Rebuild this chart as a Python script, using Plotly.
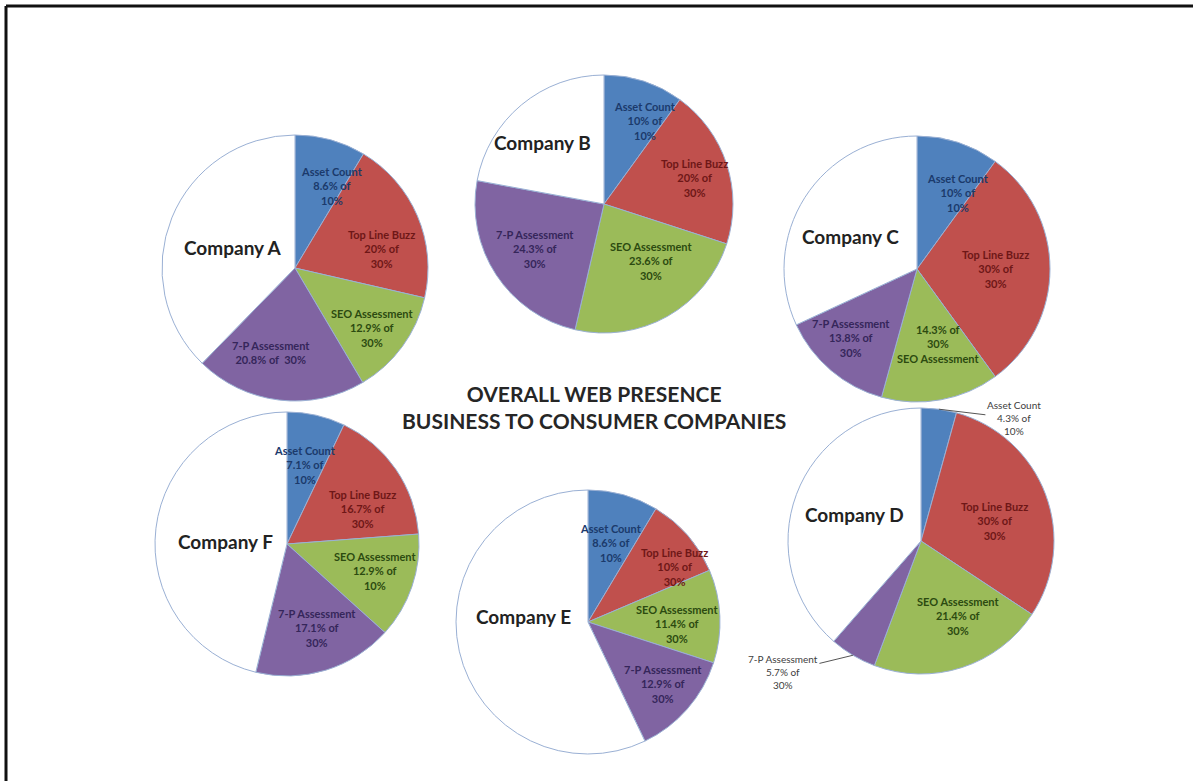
import math
import plotly.graph_objects as go

# ---- data -------------------------------------------------------------
companies = ["Company A", "Company B", "Company C", "Company D", "Company E", "Company F"]
categories = ["Asset Count", "Top Line Buzz", "SEO Assessment", "7-P Assessment"]
max_scores = [10, 30, 30, 30]  # "of N%" shown under each score

asset_count = [8.6, 10, 10, 4.3, 8.6, 7.1]
top_line_buzz = [20, 20, 30, 30, 10, 16.7]
seo_assessment = [12.9, 23.6, 14.3, 21.4, 11.4, 12.9]
seven_p = [20.8, 24.3, 13.8, 5.7, 12.9, 17.1]

# printed "of N%" caps that differ from max_scores
cap_overrides = {("Company F", "SEO Assessment"): 10}

# ---- layout / style ---------------------------------------------------
W, H = 1193, 781
centers = {  # pixel centres of each pie
    "Company A": (295, 268), "Company B": (604, 204), "Company C": (917, 269),
    "Company D": (921, 541), "Company E": (588, 622), "Company F": (287, 544),
}
radius = {"Company A": 133, "Company B": 129, "Company C": 133,
          "Company D": 133, "Company E": 132, "Company F": 132}

slice_colors = ["#4F81BD", "#C0504D", "#9BBB59", "#8064A2", "#FFFFFF"]
text_colors = ["#1B3A6B", "#6E1717", "#2C4A10", "#35265A"]
edge_color = "#9AB0D4"
font_family = "Lato, 'Open Sans', sans-serif"

label_formats = {
    ("Company A", "7-P Assessment"): "{n}<br>{v}% of  {c}%",
    ("Company C", "SEO Assessment"): "{v}% of<br>{c}%<br>{n}",
}
default_format = "{n}<br>{v}% of<br>{c}%"

# pixel nudges for labels placed along each slice's bisector
label_nudge = {
    ("Company A", "Asset Count"): (14, 0), ("Company A", "Top Line Buzz"): (8, 14),
    ("Company A", "SEO Assessment"): (8, 10),
    ("Company A", "7-P Assessment"): (-14, 0), ("Company A", "Company A"): (0, 5),
    ("Company B", "Asset Count"): (15, -4), ("Company B", "Top Line Buzz"): (12, 0),
    ("Company B", "SEO Assessment"): (6, -15), ("Company B", "Company B"): (-20, -12),
    ("Company C", "Asset Count"): (15, 5), ("Company C", "Top Line Buzz"): (-7, 0),
    ("Company C", "SEO Assessment"): (6, -9), ("Company C", "7-P Assessment"): (-11, 4),
    ("Company C", "Company C"): (-10, 3),
    ("Company D", "Top Line Buzz"): (-6, 10), ("Company D", "SEO Assessment"): (11, -6),
    ("Company D", "Company D"): (-4, -3),
    ("Company E", "Asset Count"): (0, 2), ("Company E", "Top Line Buzz"): (23, 0),
    ("Company E", "SEO Assessment"): (5, 6), ("Company E", "7-P Assessment"): (11, 6),
    ("Company E", "Company E"): (0, -20),
    ("Company F", "Asset Count"): (-1, 3),
    ("Company F", "Top Line Buzz"): (6, 13), ("Company F", "SEO Assessment"): (8, 0),
    ("Company F", "7-P Assessment"): (5, 3), ("Company F", "Company F"): (4, 5),
}

# small slices get an outside label with a leader line (pixel offsets)
outside_offsets = {("Company D", "Asset Count"): (75, 9),
                   ("Company D", "7-P Assessment"): (-70, 17)}


def px_to_paper(x, y):
    return x / W, 1 - y / H


def fmt(v):
    return f"{v:g}"


fig = go.Figure()
annotations = []

for i, comp in enumerate(companies):
    scores = [asset_count[i], top_line_buzz[i], seo_assessment[i], seven_p[i]]
    rest = round(100 - sum(scores), 2)
    values = scores + [rest]
    labels = categories + [comp]
    cx, cy = centers[comp]
    R = radius[comp]

    fig.add_trace(go.Pie(
        values=values,
        labels=labels,
        sort=False,
        direction="clockwise",
        rotation=0,
        marker=dict(colors=slice_colors, line=dict(color=edge_color, width=1)),
        textinfo="none",
        hovertemplate="%{label}: %{value}%<extra>" + comp + "</extra>",
        showlegend=False,
        domain=dict(x=[(cx - R) / W, (cx + R) / W],
                    y=[1 - (cy + R) / H, 1 - (cy - R) / H]),
    ))

    # slice labels placed along each slice's bisector
    start = 0.0
    for j, lab in enumerate(labels):
        v = values[j]
        mid = (start + v / 2) / 100 * 2 * math.pi
        start += v
        s, c = math.sin(mid), math.cos(mid)
        ndx, ndy = label_nudge.get((comp, lab), (0, 0))
        if j == len(categories):
            r = 0.5 * R
            x, y = px_to_paper(cx + r * s + ndx, cy - r * c + ndy)
            annotations.append(dict(x=x, y=y, xref="paper", yref="paper",
                                    xanchor="center", yanchor="middle",
                                    text="<b>" + comp + "</b>", showarrow=False,
                                    font=dict(family=font_family, size=19, color="#222222")))
            continue
        cap = cap_overrides.get((comp, lab), max_scores[j])
        text = label_formats.get((comp, lab), default_format).format(n=lab, v=fmt(v), c=cap)
        if (comp, lab) in outside_offsets:
            ax, ay = outside_offsets[(comp, lab)]
            x, y = px_to_paper(cx + R * s, cy - R * c)
            annotations.append(dict(x=x, y=y, xref="paper", yref="paper",
                                    text=text, showarrow=True, arrowhead=0,
                                    arrowwidth=1, arrowcolor="#555555",
                                    ax=ax, ay=ay, standoff=0,
                                    font=dict(family=font_family, size=10, color="#404040")))
        else:
            r = 0.64 * R
            x, y = px_to_paper(cx + r * s + ndx, cy - r * c + ndy)
            annotations.append(dict(x=x, y=y, xref="paper", yref="paper",
                                    xanchor="center", yanchor="middle",
                                    text="<b>" + text + "</b>", showarrow=False,
                                    font=dict(family=font_family, size=11, color=text_colors[j])))

# centre title
tx, ty = px_to_paper(594, 407)
annotations.append(dict(x=tx, y=ty, xref="paper", yref="paper", showarrow=False,
                        xanchor="center", yanchor="middle",
                        text="<b>OVERALL WEB PRESENCE<br>BUSINESS TO CONSUMER COMPANIES</b>",
                        font=dict(family=font_family, size=21, color="#262626")))

# frame lines along the top and left edges
fx0, fy0 = px_to_paper(6, 6)
shapes = [
    dict(type="line", xref="paper", yref="paper", x0=fx0, y0=fy0, x1=1, y1=fy0,
         line=dict(color="#111111", width=3)),
    dict(type="line", xref="paper", yref="paper", x0=fx0, y0=fy0, x1=fx0, y1=0,
         line=dict(color="#111111", width=3)),
]

fig.update_layout(
    width=W, height=H,
    margin=dict(l=0, r=0, t=0, b=0),
    paper_bgcolor="white",
    plot_bgcolor="white",
    annotations=annotations,
    shapes=shapes,
    font=dict(family=font_family),
)

fig.write_html("out.html")
